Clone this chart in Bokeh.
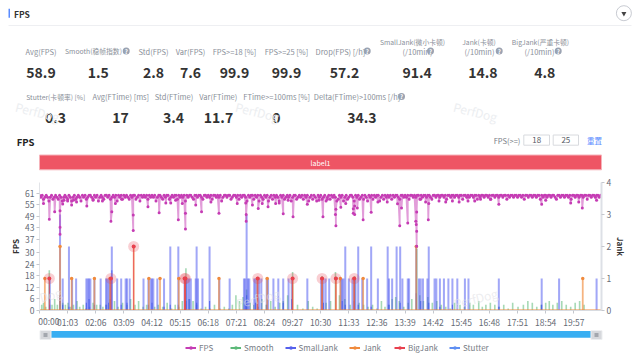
from bokeh.plotting import figure
from bokeh.models import Range1d, LinearAxis, FixedTicker, Legend, LegendItem
from bokeh.core.properties import value
from bokeh.embed import file_html
from bokeh.resources import INLINE

# ---------- summary numbers ----------
row1_names = ["Avg(FPS)", "Smooth(稳帧指数)", "Std(FPS)", "Var(FPS)", "FPS>=18 [%]", "FPS>=25 [%]", "Drop(FPS) [/h]"]
row1_vals = ["58.9", "1.5", "2.8", "7.6", "99.9", "99.9", "57.2"]
row1b_names = ["SmallJank(微小卡顿)", "Jank(卡顿)", "BigJank(严重卡顿)"]
row1b_vals = ["91.4", "14.8", "4.8"]
row2_names = ["Stutter(卡顿率) [%]", "Avg(FTime) [ms]", "Std(FTime)", "Var(FTime)", "FTime>=100ms [%]", "Delta(FTime)>100ms [/h]"]
row2_vals = ["0.3", "17", "3.4", "11.7", "0", "34.3"]

# ---------- axis labels ----------
time_labels = ["00:00","01:03","02:06","03:09","04:12","05:15","06:18","07:21","08:24","09:27","10:30",
               "11:33","12:36","13:39","14:42","15:45","16:48","17:51","18:54","19:57"]
fps_ticks = [0, 6, 12, 18, 24, 30, 37, 43, 49, 55, 61]
jank_ticks = [0, 1, 2, 3, 4]
sample_step = 3

# ---------- series ----------
fps_base = [
 60,59,60,58,59,60,59,57,59,60,58,59,60,59,58,60,59,57,59,60,
 59,58,60,59,57,59,60,58,59,60,59,57,60,59,60,58,59,60,60,59,
 58,60,59,60,57,59,60,59,58,60,60,59,60,58,59,60,59,60,57,60,
 59,60,58,60,59,60,59,58,60,59,60,60,58,59,60,57,60,59,60,59,
 60,58,60,59,60,59,60,57,59,60,60,59,58,60,59,60,60,58,59,60,
 59,60,60,58,60,59,60,59,60,57,60,59,60,60,59,58,60,60,59,60,
 60,59,58,60,60,59,60,59,60,58,60,60,59,60,59,60,57,59,60,60,
 59,60,60,58,59,60,60,59,60,58,60,59,60,60,59,57,60,59,60,60,
 58,60,59,60,57,60,59,58,60,59,60,57,59,60,58,60,59,60,59,57,
 60,59,60,58,59,60,59,60,57,59,60,60,58,59,60,59,60,58,60,59,
 60,57,59,60,58,60,59,57,60,59,60,58,59,60,57,59,60,58,60,59,
 60,59,57,58,60,59,60,57,59,60,58,59,60,60,59,57,60,59,60,58,
 59,60,58,60,59,57,60,59,60,58,60,59,60,60,57,59,60,58,60,59,
 60,59,60,58,60,59,60,60,59,58,60,60,59,60,59,60,58,60,60,59,
 60,59,60,60,58,60,59,60,60,59,60,60,59,58,60,60,59,60,60,59,
 60,60,59,60,58,60,60,59,60,60,59,60,60,59,60,60,58,60,60,59,
 60,59,60,60,59,60,60,58,60,59,60,60,59,60,60,59,60,58,60,60,
 59,60,60,59,60,60,59,60,60,58,60,59,60,60,59,60,60,59,60,60,
 59,60,58,60,60,59,60,60,59,60,60,59,60,60,58,60,59,60,60,59,
 60,60,59,60,60,59,58,60,60,59,60,60,59,60,60,59,60,58,60,60,
 59,60,60,59,60,60,59,60,60,58,60,60,59,60,60,59,60,60,59,60,
]
fps_dip_t = [9,22,34,46,46,46,52,55,63,72,76,83,106,120,141,160,162,170,184,210,210,243,268,283,294,305,311,
             320,327,327,350,363,384,402,443,462,463,463,477,490,499,512,529,537,546,557,568,600,626,635,645,
             663,664,664,675,686,703,706,703,706,712,725,743,758,779,802,807,811,825,843,844,845,845,845,854,865,871,872,
             895,910,925,940,960,975,988,1010,1029,1125,1134,1190,1208,1216,1248]
fps_dip_v = [55.8,47.6,51.5,52,43.4,39.7,55.5,57.5,57,55,57.5,56.6,54.4,57.5,57,46.5,51.5,55.8,58,49.8,41.7,54,51,56,56,57.5,47.3,
             55.8,50.7,42.5,55,51.5,56.5,50.7,55.8,56,46.5,50,55,53.2,55.8,54,55.8,56,50.4,57.5,48.9,55.4,57.5,48.9,58,
             50,44.2,52.7,53.8,55.8,50.7,50,53,54.4,53.4,47.3,51.2,56.6,56.6,55.6,44.2,53.4,45.6,46.5,44.8,51.3,41.3,33.5,58,56.6,47.3,55.8,
             57,56.5,57,56.5,57,57,58,58,55.4,55.4,57.5,56,56.6,53.4,57.5]

smooth_t = [5,9,14,22,28,34,40,46,52,58,64,70,76,84,90,98,104,112,120,128,136,142,150,158,168,176,186,196,204,214,
            222,232,240,250,258,266,276,286,296,304,312,320,328,336,344,352,362,372,382,392,404,414,424,432,440,448,456,464,
            472,480,490,498,508,518,528,538,546,556,567,578,590,602,612,622,633,642,652,663,672,684,696,706,716,726,736,
            746,756,766,774,782,790,798,806,816,826,834,845,852,860,870,880,890,900,910,920,930,942,952,964,972,984,992,1000,
            1010,1020,1030,1040,1050,1060,1072,1084,1094,1104,1114,1124,1134,1142,1150,1160,1170,1180,1190,1200,1210,1220]
smooth_v = [3,4,2,21,3,6,3,5,4,3,4,2,3,5,2,3,1,2,4,3,3,2,3,6,5,2,4,3,6,3,
            5,2,3,0,2,3,2,4,1,3,2,5,22,6,5,3,1,2,1,3,1,2,1,3,8,5,7,11,
            4,3,2,6,3,5,2,4,5,8,20,3,1,5,2,1,18,4,5,20,8,6,3,18,4,3,2,
            3,1,5,2,3,6,7,5,2,4,6,32,8,5,7,4,5,3,2,1,4,3,2,4,3,5,2,3,
            4,3,2,3,1,4,2,3,5,4,2,3,4,5,3,4,5,3,2,4,5,3]

smalljank_t = [23,46,52,66,73,82,105,108,111,114,123,137,149,152,155,158,162,174,183,193,196,202,233,244,249,252,255,264,279,293,311,
               325,328,331,335,339,350,352,355,365,381,403,426,458,461,464,467,470,481,484,488,492,497,509,512,524,535,546,558,565,600,
               631,636,641,649,675,678,681,685,693,701,705,708,714,723,734,743,758,780,783,790,800,808,813,825,828,844,850,854,859,869,872,
               885,889,897,906,916,925,936,953,961,1029,1125,1164,1248]
smalljank_v = [1,3,1,2,1,1,1,1,1,1,1,1,1,1,1,1,2,1,1,1,1,1,1,1,1,1,1,1,1,2,2,
               1,1,1,1,1,1,2,1,1,2,1,1,1,1,3,1,1,1,1,1,1,1,1,1,1,1,1,1,1,1,
               1,1,1,1,1,1,1,2,1,1,1,1,2,1,1,2,1,2,1,1,2,2,1,1,1,2,1,1,1,1,2,
               1,1,1,1,1,1,1,1,1,1,1,1,1]

stutter_t = [23,46,52,66,105,111,123,149,155,162,183,196,244,252,279,293,311,328,335,352,381,461,464,484,509,546,565,
             636,678,685,705,714,743,783,808,844,854,872,897,925,1029,1125]
stutter_v = [3,8,3,2,4,6,3,3,4,21,3,4,3,4,2,3,3,5,6,4,5,4,8,4,3,4,6,
             4,5,3,5,3,2,3,4,9,5,4,2,3,2,3]

jank_t = [12,46,72,123,158,211,245,270,312,326,402,488,510,567,633,664,674,705,725,844,1217]
jank_v = [1,2,1,1,1,2,1,1,1,1,1,1,1,1,1,1,1,1,1,2,1]

bigjank_t = [22,160,211,325,327,489,567,633,664,705]
bigjank_v = [1,1,2,1,1,1,1,1,1,1]

legend_names = ["FPS", "Smooth", "SmallJank", "Jank", "BigJank", "Stutter"]
legend_cols = ["#c53cb4", "#5cb978", "#5560ec", "#f08a3c", "#e8404e", "#5f8ff2"]

FONT = "Noto Sans CJK SC"
GREY = "#8a8f99"
VAL = dict(size=14, color="#333333", style="bold")

# ---------- header ----------
head = figure(width=640, height=172, x_range=Range1d(0, 640), y_range=Range1d(172, 0),
              output_backend="svg", toolbar_location=None, x_axis_location=None, y_axis_location=None,
              min_border=0, outline_line_color=None)
head.grid.visible = False


def put(fig, x, y, t, size=7.5, color=GREY, align="center", style="normal", angle=0):
    fig.text([x], [y], text=[t], text_font=value(FONT), text_font_size=f"{size}px", text_color=color,
             text_align=align, text_baseline="middle", text_font_style=style, angle=angle, angle_units="deg")


def help_icon(x, y):
    head.scatter([x], [y], marker="circle", size=7, fill_color="#9aa3b2", line_color=None)
    put(head, x, y, "?", size=6, color="#ffffff", style="bold")


head.quad(left=8, right=9.5, top=8.3, bottom=17.3, fill_color="#5b8cff", line_color=None)
put(head, 13.5, 13, "FPS", size=8.5, color="#333333", align="left", style="bold")
head.segment(8, 25, 631, 25, line_color="#eeeff2", line_width=1)
head.scatter([623.4], [12.7], marker="circle", size=15, fill_color="#ffffff", line_color="#c8cbd2", line_width=1)
head.scatter([623.4], [13], marker="inverted_triangle", size=5, fill_color="#444444", line_color=None)


def lab(x, y, n):
    put(head, x, y, n, size=6.8 if any(ord(c) > 255 for c in n) else 7.5)


for n, v, lx, vx in zip(row1_names, row1_vals, [40.5, 93, 153, 190, 234, 286, 340], [40.5, 97.7, 153, 190, 234, 286, 344]):
    lab(lx, 50.5, n)
    put(head, vx, 71.7, v, **VAL)
for n, v, lx, lx2, vx in zip(row1b_names, row1b_vals, [412, 478.5, 540], [417, 479, 539], [416.7, 482.3, 544.3]):
    lab(lx, 41.7, n)
    lab(lx2, 50.5, "(/10min)")
    put(head, vx, 71.7, v, **VAL)
for x in [125.7, 366.7, 430, 498.7, 557.7]:
    help_icon(x, 50.5)
for n, v, lx, vx in zip(row2_names, row2_vals, [55.3, 120.3, 173.5, 217.7, 276.2, 356.5], [55, 120, 173, 218, 276, 361.3]):
    lab(lx, 96, n)
    put(head, vx, 116.7, v, **VAL)
help_icon(401, 96)

for x in [37, 257, 475]:
    put(head, x, 111, "PerfDog", size=12, color="#eceef1", angle=-14)

put(head, 25, 141.7, "FPS", size=9.5, color="#222222", style="bold")
put(head, 506.5, 139.7, "FPS(>=)", size=7.5, color="#777c85")
for x0, x1, t in [(523.3, 549, "18"), (552.7, 578, "25")]:
    head.quad(left=x0, right=x1, top=134.5, bottom=144.7, fill_color="#ffffff", line_color="#d8dade", line_width=1)
    put(head, (x0 + x1) / 2, 139.7, t, size=8, color="#555a63")
put(head, 594, 139.7, "重置", size=7.5, color="#5b8cff")
head.quad(left=39, right=601, top=154.5, bottom=169.3, fill_color="#ee5564", line_color="#f6b3ba", line_width=1)
put(head, 320, 162, "label1", size=7, color="#ffffff")

# ---------- chart ----------
p = figure(width=640, height=158, x_range=Range1d(0, 1259), y_range=Range1d(0, 66.7),
           output_backend="svg", toolbar_location=None, min_border_left=39, min_border_right=39,
           min_border_top=10, min_border_bottom=17, outline_line_color=None)
p.grid.visible = False
p.extra_y_ranges = {"jank": Range1d(0, 4)}

bar = dict(line_color=None)
p.vbar(x=smooth_t, top=smooth_v, width=3.6, fill_color=legend_cols[1], fill_alpha=0.55, **bar)
p.vbar(x=smalljank_t, top=smalljank_v, width=4.5, fill_color="#4450f0", fill_alpha=0.5, y_range_name="jank", **bar)
p.vbar(x=stutter_t, top=stutter_v, width=2.5, fill_color="#3a52ea", fill_alpha=0.7, **bar)
p.vbar(x=jank_t, top=jank_v, width=4, fill_color=legend_cols[3], fill_alpha=0.65, y_range_name="jank", **bar)
p.scatter(jank_t, jank_v, marker="circle", size=3.5, fill_color=legend_cols[3], line_color=None, y_range_name="jank")
p.segment(0, 0, 1259, 0, line_color=legend_cols[3], line_width=2, y_range_name="jank")
p.segment(bigjank_t, [0] * len(bigjank_t), bigjank_t, bigjank_v, line_color=legend_cols[4], line_width=0.8, y_range_name="jank")
p.scatter(bigjank_t, bigjank_v, marker="circle", size=11, fill_color=legend_cols[4], fill_alpha=0.25, line_color=None, y_range_name="jank")
p.scatter(bigjank_t, bigjank_v, marker="circle", size=4, fill_color=legend_cols[4], line_color=None, y_range_name="jank")

fps_pairs = sorted([(i * sample_step, v) for i, v in enumerate(fps_base)] + list(zip(fps_dip_t, fps_dip_v)))
fps_t = [a for a, _ in fps_pairs]
fps_v = [b for _, b in fps_pairs]
p.line(fps_t, fps_v, line_color=legend_cols[0], line_width=1.8, line_alpha=0.5)
p.scatter(fps_t, fps_v, marker="circle", size=3, fill_color=legend_cols[0], line_color=None)

for t, v in [(0, 7), (489, 6.5), (977, 6.5)]:
    p.text([t], [v], text=["PerfDog"], text_font=value(FONT), text_font_size="12px", text_color="#dfe1e6",
           text_alpha=0.6, text_align="center", text_baseline="middle", angle=14, angle_units="deg")

xa = p.xaxis[0]
xa.ticker = FixedTicker(ticks=[i * 63 for i in range(len(time_labels))])
xa.major_label_overrides = {i * 63: (t if i else " ") for i, t in enumerate(time_labels)}
xa.major_label_text_font = FONT
xa.major_label_text_font_size = "8.5px"
xa.major_label_text_color = "#666b75"
xa.major_tick_out = 3
xa.major_tick_in = 0
xa.major_label_standoff = 2
xa.minor_tick_line_color = None
xa.axis_line_color = "#d8dbe0"
xa.major_tick_line_color = "#c4c7cd"
first_tick = p.text([0], [0], text=[time_labels[0]], x_offset=9.4, y_offset=10, text_font=value(FONT),
                    text_font_size="8.5px", text_color="#666b75", text_align="center", text_baseline="middle")
first_tick.level = "overlay"

ya = p.yaxis[0]
ya.ticker = FixedTicker(ticks=fps_ticks)
ya.axis_label = "FPS"

ra = LinearAxis(y_range_name="jank", ticker=FixedTicker(ticks=jank_ticks), axis_label="Jank")
p.add_layout(ra, "right")
for a in (ya, ra):
    a.major_label_text_font = FONT
    a.major_label_text_font_size = "8.5px"
    a.major_label_text_color = "#666b75"
    a.major_tick_out = 3
    a.major_tick_in = 0
    a.major_label_standoff = 2
    a.minor_tick_line_color = None
    a.major_tick_line_color = "#c4c7cd"
    a.axis_label_text_font = FONT
    a.axis_label_text_font_size = "8px"
    a.axis_label_text_font_style = "bold"
    a.axis_label_text_color = "#333333"
    a.axis_label_standoff = 1
ya.axis_line_color = "#e2e4e8"
ra.axis_line_color = "#dde0e6"
ra.axis_line_width = 2

# ---------- slider and legend ----------
low = figure(width=640, height=23, x_range=Range1d(0, 640), y_range=Range1d(353, 330),
             output_backend="svg", toolbar_location=None, x_axis_location=None, y_axis_location=None,
             min_border=0, outline_line_color=None)
low.grid.visible = False
low.quad(left=45, right=596, top=330.5, bottom=337.3, fill_color="#38aef2", line_color=None)
for x in [45, 596]:
    low.quad(left=x - 5.5, right=x + 5.5, top=330, bottom=339, fill_color="#d6d8dc", line_color="#eceef0", line_width=1)
    low.quad(left=x - 2, right=x + 2, top=332.5, bottom=336.5, fill_color="#a3a7ae", line_color=None)

items = []
for n, c in zip(legend_names, legend_cols):
    l = low.line([-50, -40], [360, 360], line_color=c, line_width=2)
    s = low.scatter([-45], [360], marker="circle", size=4, fill_color=c, line_color=None)
    items.append(LegendItem(label=n, renderers=[l, s]))
leg = Legend(items=items, orientation="horizontal", location=(185, 0), padding=0, margin=0, spacing=11,
             label_standoff=3, glyph_width=11, glyph_height=9, label_height=9, border_line_color=None,
             background_fill_alpha=0, label_text_font=FONT, label_text_font_size="8px", label_text_color="#777c85")
low.add_layout(leg)

open("out.html", "w").write(file_html((head, p, low), INLINE))
